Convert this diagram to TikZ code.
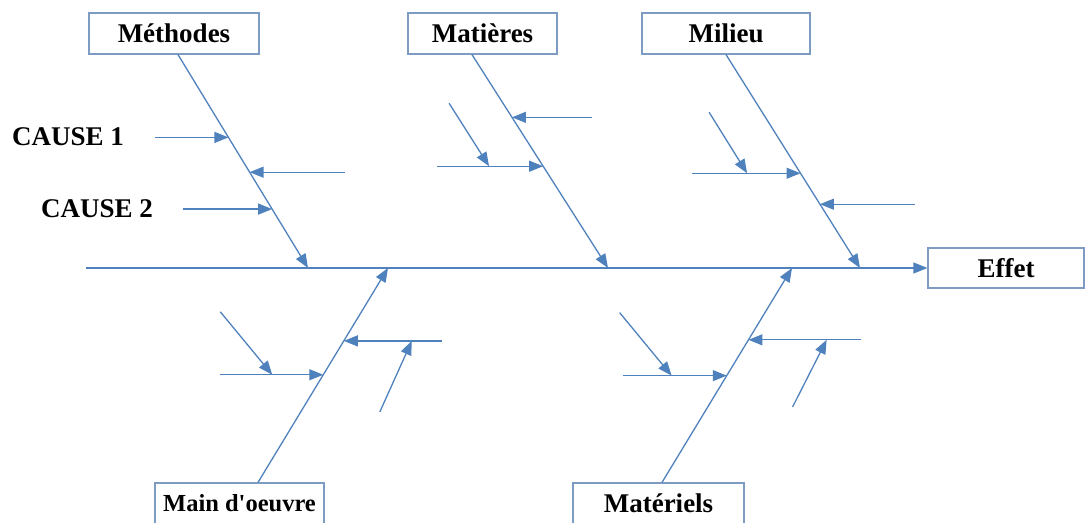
\documentclass[tikz,border=0pt]{standalone}
\usepackage{fontspec}
\setmainfont{Liberation Serif}
\usetikzlibrary{arrows.meta}
\definecolor{linecol}{HTML}{4F81BD}
\definecolor{boxline}{RGB}{125,155,195}

\begin{document}
\begin{tikzpicture}[x=1pt, y=-1pt,
      every node/.style={font=\bfseries\fontsize{27}{29}\selectfont},
      cat/.style={draw=boxline, line width=1.2pt, minimum width=170pt,
                  minimum height=41pt, inner sep=0pt},
      arr/.style={draw=linecol, line width=1.3pt,
                  -{Triangle[length=14pt,width=11pt]}}
      ]
      \useasboundingbox (0,0) rectangle (1086,522);

      \node[cat] (methodes) at (174,33.5) {Méthodes};
      \node[cat, minimum width=149pt] (matieres) at (482.5,33.5) {Matières};
      \node[cat, minimum width=168pt] (milieu) at (726,33.5) {Milieu};
      \node[cat, minimum width=156pt, minimum height=40pt] (effet) at (1006,268) {Effet};
      \node[cat, minimum width=169pt, font=\bfseries\fontsize{24.5}{27}\selectfont]
        (main) at (239.5,503.5) {Main d\textquotesingle oeuvre};
      \node[cat, minimum width=171pt] (materiels) at (658.5,503.5) {Matériels};
      \node (cause1) at (68,137) {CAUSE 1};
      \node (cause2) at (97,209) {CAUSE 2};

      \coordinate (tail) at (86,268);
      \draw[arr] (tail) -- (effet.west);

      \draw[arr] ([xshift=4pt]methodes.south) -- (308,268)
        coordinate[pos=.388] (me1) coordinate[pos=.551] (me2) coordinate[pos=.724] (me3);
      \draw[arr] ([xshift=-10.5pt]matieres.south) -- (608,268)
        coordinate[pos=.294] (ma1) coordinate[pos=.523] (ma2);
      \draw[arr] (milieu.south) -- (860,268)
        coordinate[pos=.556] (mi1) coordinate[pos=.701] (mi2);
      \draw[arr] ([xshift=18.5pt]main.north) -- (388,268)
        coordinate[pos=.502] (mo1) coordinate[pos=.660] (mo2);
      \draw[arr] ([xshift=3.5pt]materiels.north) -- (792,268)
        coordinate[pos=.498] (mt1) coordinate[pos=.665] (mt2);

      \draw[arr] (me1) +(-73,0) -- (me1);
      \draw[arr] (me2) +(95,0) -- (me2);
      \draw[arr] (me3) +(-89,0) -- (me3);

      \draw[arr] (ma1) +(80,0) -- (ma1);
      \draw[arr] (ma2) +(-106,0) -- (ma2) coordinate[pos=.49] (ma3);
      \draw[arr] (ma3) +(-40,-63) -- (ma3);

      \draw[arr] (mi1) +(-109,0) -- (mi1) coordinate[pos=.51] (mi3);
      \draw[arr] (mi3) +(-38,-61) -- (mi3);
      \draw[arr] (mi2) +(95,0) -- (mi2);

      \draw[arr] (mo1) +(-103,0) -- (mo1) coordinate[pos=.505] (mo3);
      \draw[arr] (mo3) +(-52,-63) -- (mo3);
      \draw[arr] (mo2) +(98,0) -- (mo2) coordinate[pos=.306] (mo4);
      \draw[arr] (mo4) +(-32,71) -- (mo4);

      \draw[arr] (mt1) +(-104,0) -- (mt1) coordinate[pos=.47] (mt3);
      \draw[arr] (mt3) +(-52,-63) -- (mt3);
      \draw[arr] (mt2) +(113,0) -- (mt2) coordinate[pos=.308] (mt4);
      \draw[arr] (mt4) +(-34,67) -- (mt4);
    \end{tikzpicture}
\end{document}
